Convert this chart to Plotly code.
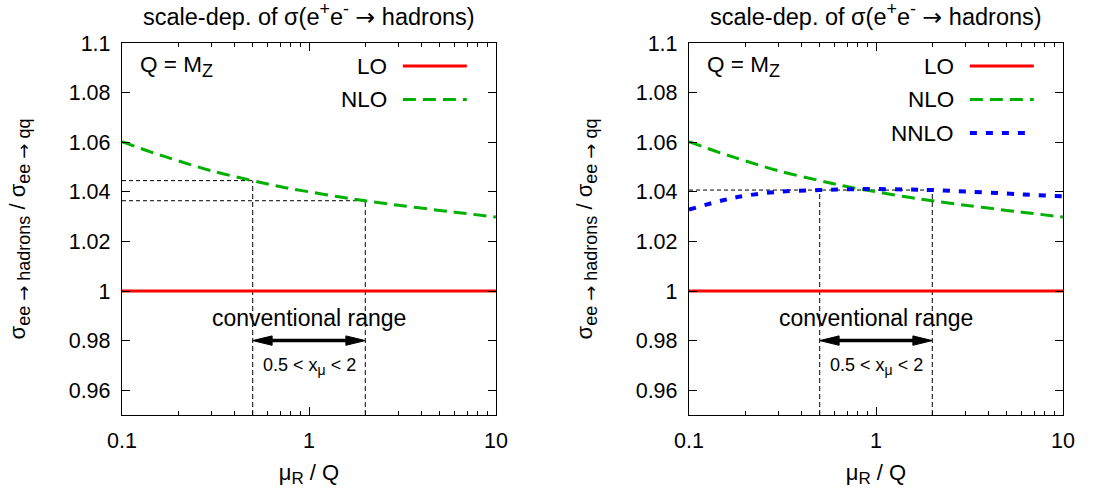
import plotly.graph_objects as go

# renormalisation scale mu_R / Q
mu = [0.1, 0.15, 0.2, 0.3, 0.5, 0.7, 1.0, 1.5, 2.0, 3.0, 5.0, 7.0, 10.0]
# sigma(ee -> hadrons) / sigma(ee -> qq)
lo = [1.0] * len(mu)
nlo = [1.0602, 1.0555, 1.0525, 1.0485, 1.0445, 1.0421, 1.0400, 1.0378, 1.0364, 1.0346, 1.0325, 1.0312, 1.0298]
nnlo = [1.0328, 1.0365, 1.0384, 1.0400, 1.0407, 1.0410, 1.0411, 1.0409, 1.0407, 1.0401, 1.0393, 1.0387, 1.0382]

x_tickvals = [0.1, 1, 10]
x_ticktext = ["0.1", "1", "10"]
x_minor = [0.2, 0.3, 0.4, 0.5, 0.6, 0.7, 0.8, 0.9, 2, 3, 4, 5, 6, 7, 8, 9]
y_tickvals = [0.96, 0.98, 1.0, 1.02, 1.04, 1.06, 1.08, 1.1]
y_ticktext = ["0.96", "0.98", "1", "1.02", "1.04", "1.06", "1.08", "1.1"]

range_lo, range_hi = 0.5, 2.0  # conventional scale window
arrow_y = 0.98
y_floor = 0.95

FONT = "Liberation Sans, Arial, sans-serif"
RED, GREEN, BLUE = "#ff0000", "#00b000", "#0000ff"
NLO_DASH = "13px,7px"
NNLO_DASH = "7px,9px"
ARROW = '<span style="font-family:DejaVu Sans">→</span>'


def sub(s, px):
    return f"<sub><span style='font-size:{px}px'>{s}</span></sub>"


def sup(s, px):
    return f"<sup><span style='font-size:{px}px'>{s}</span></sup>"


fig = go.Figure()


def thin(xs, ys, xa, ya, dash):
    fig.add_trace(go.Scatter(x=xs, y=ys, mode="lines", xaxis=xa, yaxis=ya,
                             line=dict(color="black", width=1, dash=dash),
                             showlegend=False, hoverinfo="skip"))


def panel(xa, ya, with_nnlo):
    i_lo = mu.index(range_lo)
    i_hi = mu.index(range_hi)
    if with_nnlo:
        ref = nnlo[i_lo]
        thin([mu[0], range_hi], [ref, ref], xa, ya, "4px,3px")
        thin([range_lo, range_lo], [y_floor, ref], xa, ya, "5px,3px")
        thin([range_hi, range_hi], [y_floor, ref], xa, ya, "5px,3px")
    else:
        thin([mu[0], range_lo], [nlo[i_lo]] * 2, xa, ya, "4px,3px")
        thin([mu[0], range_hi], [nlo[i_hi]] * 2, xa, ya, "4px,3px")
        thin([range_lo, range_lo], [y_floor, nlo[i_lo]], xa, ya, "5px,3px")
        thin([range_hi, range_hi], [y_floor, nlo[i_hi]], xa, ya, "5px,3px")

    fig.add_trace(go.Scatter(x=mu, y=lo, mode="lines", xaxis=xa, yaxis=ya,
                             line=dict(color=RED, width=3), name="LO", showlegend=False))
    fig.add_trace(go.Scatter(x=mu, y=nlo, mode="lines", xaxis=xa, yaxis=ya,
                             line=dict(color=GREEN, width=3, dash=NLO_DASH, shape="spline"),
                             name="NLO", showlegend=False))
    if with_nnlo:
        fig.add_trace(go.Scatter(x=mu, y=nnlo, mode="lines", xaxis=xa, yaxis=ya,
                                 line=dict(color=BLUE, width=4, dash=NNLO_DASH, shape="spline"),
                                 name="NNLO", showlegend=False))

    # double-headed arrow across the conventional range
    head = 1.27   # head length as a factor along the log axis
    hh = 0.0019   # half height of the head
    fig.add_trace(go.Scatter(x=[range_lo * 1.1, range_hi / 1.1], y=[arrow_y, arrow_y], mode="lines",
                             xaxis=xa, yaxis=ya, line=dict(color="black", width=3.5),
                             showlegend=False, hoverinfo="skip"))
    for tip, back in ((range_lo, range_lo * head), (range_hi, range_hi / head)):
        fig.add_trace(go.Scatter(x=[tip, back, back, tip], y=[arrow_y, arrow_y + hh, arrow_y - hh, arrow_y],
                                 mode="lines", fill="toself", fillcolor="black",
                                 line=dict(color="black", width=1), xaxis=xa, yaxis=ya,
                                 showlegend=False, hoverinfo="skip"))


panel("x", "y", False)
panel("x2", "y2", True)

W, H = 1094, 495
dom_l = [122 / W, 496 / W]
dom_r = [689 / W, 1063 / W]
dom_y = [(H - 415) / H, (H - 43) / H]

axis_common = dict(showline=True, linecolor="black", linewidth=1.3, mirror="ticks",
                   ticks="inside", ticklen=8, tickwidth=1, tickcolor="black",
                   showgrid=False, zeroline=False, automargin=False,
                   tickfont=dict(family=FONT, size=21.5, color="black"))

xcfg = dict(type="log", range=[-1, 1], tickvals=x_tickvals, ticktext=x_ticktext,
            minor=dict(ticks="inside", ticklen=4, tickwidth=1, tickcolor="black",
                       tickvals=x_minor, showgrid=False),
            title=dict(text="μ" + sub("R", 17) + " / Q",
                       font=dict(family=FONT, size=22, color="black"), standoff=12),
            ticklabelstandoff=6, **axis_common)
ycfg = dict(range=[0.95, 1.1], tickvals=y_tickvals, ticktext=y_ticktext,
            title=dict(text="σ" + sub(f"ee {ARROW} hadrons", 18) + " / σ" + sub(f"ee {ARROW} qq", 18),
                       font=dict(family=FONT, size=22, color="black"), standoff=36),
            ticklabelstandoff=6, **axis_common)

fig.update_layout(
    template="none",
    width=W, height=H, margin=dict(l=0, r=0, t=0, b=0),
    paper_bgcolor="white", plot_bgcolor="white", showlegend=False,
    font=dict(family=FONT, size=22, color="black"),
    xaxis=dict(domain=dom_l, anchor="y", **xcfg),
    yaxis=dict(domain=dom_y, anchor="x", **ycfg),
    xaxis2=dict(domain=dom_r, anchor="y2", **xcfg),
    yaxis2=dict(domain=dom_y, anchor="x2", **ycfg),
)

title = "scale-dep. of σ(e" + sup("+", 18) + "e" + sup("-", 18) + f" {ARROW} hadrons)"
legend_rows = [("LO", RED, 3, None), ("NLO", GREEN, 3, NLO_DASH), ("NNLO", BLUE, 4, NNLO_DASH)]
row_y = [0.938, 0.848, 0.758]

for k, (xa, ya, nrows) in enumerate((("x", "y", 2), ("x2", "y2", 3))):
    xd = f"{xa} domain"
    yd = f"{ya} domain"
    fig.add_annotation(x=0.5, y=1.0, xref=xd, yref="paper", yanchor="top", showarrow=False,
                       text=title, font=dict(family=FONT, size=23.5), yshift=3)
    fig.add_annotation(x=0.042, y=0.938, xref=xd, yref=yd, xanchor="left", yanchor="middle",
                       showarrow=False, text="Q = M" + sub("Z", 18), font=dict(family=FONT, size=22.5))
    for r in range(nrows):
        name, col, wd, dash = legend_rows[r]
        fig.add_annotation(x=0.714, y=row_y[r], xref=xd, yref=yd, xanchor="right", yanchor="middle",
                           showarrow=False, text=name, font=dict(family=FONT, size=22.5))
        fig.add_shape(type="line", xref=xd, yref=yd, x0=0.751, x1=0.922, y0=row_y[r], y1=row_y[r],
                      line=dict(color=col, width=wd, dash=dash if dash else "solid"))
    fig.add_annotation(x=0, y=0.989, xref=xa, yref=ya, showarrow=False,
                       text="conventional range", font=dict(family=FONT, size=23))
    fig.add_annotation(x=0, y=0.9695, xref=xa, yref=ya, showarrow=False,
                       text="0.5 &lt; x" + sub("μ", 14) + " &lt; 2", font=dict(family=FONT, size=18))

fig.write_html("out.html")
